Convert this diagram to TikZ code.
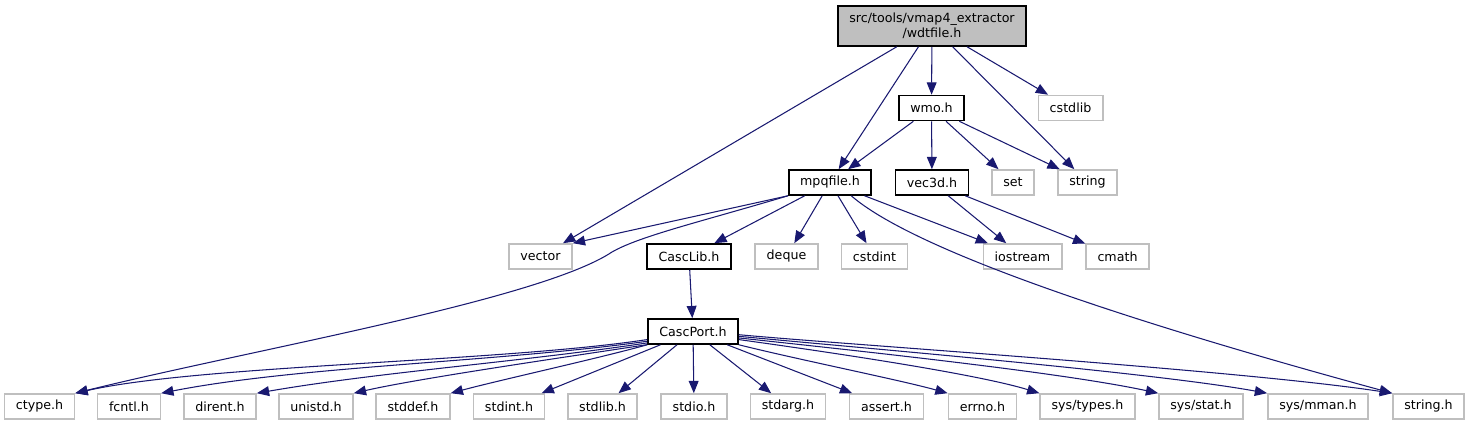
\documentclass[tikz,border=0pt]{standalone}
\usepackage{fontspec}
\setmainfont{DejaVu Sans}
\usetikzlibrary{arrows.meta}
\definecolor{edgeblue}{HTML}{191970}
\definecolor{extgray}{HTML}{BFBFBF}

\begin{document}
\begin{tikzpicture}[x=0.02cm,y=-0.02cm,
    font=\fontsize{7.2}{8.5}\selectfont,
    box/.style={rectangle,draw,fill=white,inner xsep=6.5pt,inner ysep=0pt,minimum height=0.5cm,line width=0.9pt},
    doc/.style={box,draw=black},
    ext/.style={box,draw=extgray},
    main/.style={box,draw=black,fill=extgray,align=center,minimum height=0.8cm},
    inc/.style={edgeblue,line width=0.6pt,-{Triangle[length=7pt,width=5.6pt]}}]
    \useasboundingbox (0,0) rectangle (1470,425);

    \node[main] (wdt) at (932,26) {src/tools/vmap4\_extractor\\/wdtfile.h};
    \node[doc] (wmo) at (931.5,108) {wmo.h};
    \node[ext] (cstdlib) at (1070.5,108) {cstdlib};
    \node[doc] (mpq) at (830,182.5) {mpqfile.h};
    \node[doc] (vec) at (932,182.5) {vec3d.h};
    \node[ext] (set) at (1013,182.5) {set};
    \node[ext] (string) at (1087.5,182.5) {string};
    \node[ext] (vector) at (540.5,256.5) {vector};
    \node[doc] (casclib) at (689,256.5) {CascLib.h};
    \node[ext] (deque) at (786.5,256.5) {deque};
    \node[ext] (cstdint) at (874.5,256.5) {cstdint};
    \node[ext] (iostream) at (1022.5,256.5) {iostream};
    \node[ext] (cmath) at (1117.5,256.5) {cmath};
    \node[doc] (cport) at (693,331.5) {CascPort.h};

    % system headers
    \node[ext] (ctype) at (39.5,406.5) {ctype.h};
    \node[ext] (fcntl) at (129,406.5) {fcntl.h};
    \node[ext] (dirent) at (220,406.5) {dirent.h};
    \node[ext] (unistd) at (316,406.5) {unistd.h};
    \node[ext] (stddef) at (413,406.5) {stddef.h};
    \node[ext] (stdint) at (509,406.5) {stdint.h};
    \node[ext] (stdlib) at (602.5,406.5) {stdlib.h};
    \node[ext] (stdio) at (694,406.5) {stdio.h};
    \node[ext] (stdarg) at (788,406.5) {stdarg.h};
    \node[ext] (assert) at (886.5,406.5) {assert.h};
    \node[ext] (errno) at (982.5,406.5) {errno.h};
    \node[ext] (systypes) at (1087.5,406.5) {sys/types.h};
    \node[ext] (sysstat) at (1201,406.5) {sys/stat.h};
    \node[ext] (sysmman) at (1318,406.5) {sys/mman.h};
    \node[ext] (stringh) at (1428.5,406.5) {string.h};

    % Arrows
    \draw[inc] (wdt) -- (vector);
    \draw[inc] (wdt) -- (mpq);
    \draw[inc] (wdt) -- (wmo);
    \draw[inc] (wdt) -- (string);
    \draw[inc] (wdt) -- (cstdlib);
    \draw[inc] (wmo) -- (mpq);
    \draw[inc] (wmo) -- (vec);
    \draw[inc] (wmo) -- (set);
    \draw[inc] (wmo) -- (string);
    \draw[inc] (mpq.south west) -- (vector.north east);
    \draw[inc] (mpq.south west) .. controls (700,222) and (640,236) .. (612,252)
        .. controls (540,300) and (250,350) .. (ctype.north east);
    \draw[inc] (mpq) -- (casclib);
    \draw[inc] (mpq) -- (deque);
    \draw[inc] (mpq) -- (cstdint);
    \draw[inc] (mpq) -- (iostream);
    \draw[inc] (mpq.-32) .. controls (900,238) and (1050,300) .. (stringh.north west);
    \draw[inc] (vec) -- (iostream);
    \draw[inc] (vec) -- (cmath);
    \draw[inc] (casclib) -- (cport);

    \draw[inc] (cport.190) .. controls (500,362) and (200,365) .. (ctype.north east);
    \draw[inc] (cport.192) .. controls (500,362) and (300,366) .. (fcntl.north east);
    \draw[inc] (cport.194) .. controls (520,362) and (380,372) .. (dirent.north east);
    \draw[inc] (cport.196) .. controls (580,355) and (420,378) .. (unistd.north east);
    \draw[inc] (cport.south west) .. controls (600,358) and (500,380) .. (stddef.north east);
    \draw[inc] (cport) -- (stdint);
    \draw[inc] (cport) -- (stdlib);
    \draw[inc] (cport) -- (stdio);
    \draw[inc] (cport) -- (stdarg);
    \draw[inc] (cport) -- (assert);
    \draw[inc] (cport.south east) .. controls (800,360) and (900,380) .. (errno.north west);
    \draw[inc] (cport.-10) .. controls (850,355) and (980,375) .. (systypes.north west);
    \draw[inc] (cport.-8) .. controls (850,350) and (1060,372) .. (sysstat.north west);
    \draw[inc] (cport.-6) .. controls (850,347) and (1150,372) .. (sysmman.north west);
    \draw[inc] (cport.-4) .. controls (850,345) and (1240,370) .. (stringh.north west);
\end{tikzpicture}
\end{document}
